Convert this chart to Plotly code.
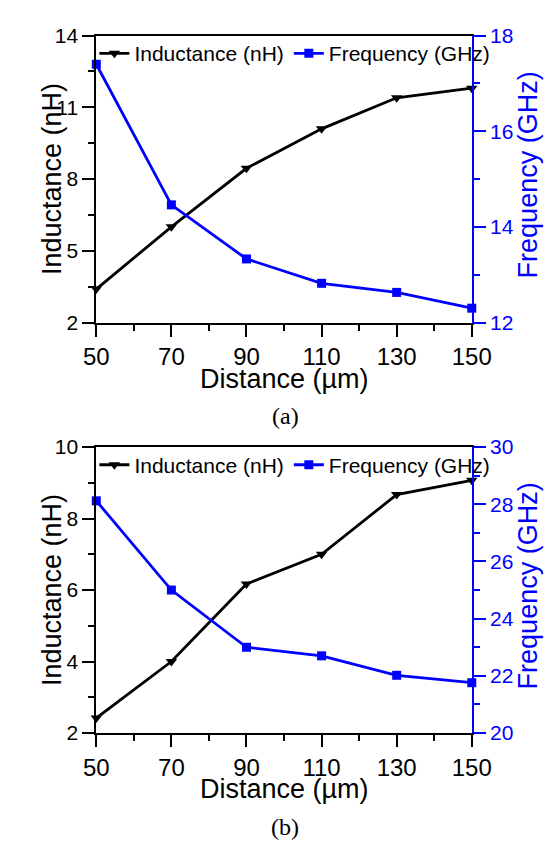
import plotly.graph_objects as go

W, H = 560, 845

distance = [50, 70, 90, 110, 130, 150]
ind_a = [3.4, 6.0, 8.45, 10.1, 11.4, 11.8]
freq_a = [17.4, 14.46, 13.33, 12.82, 12.63, 12.3]
ind_b = [2.42, 4.0, 6.17, 7.0, 8.67, 9.07]
freq_b = [28.12, 25.0, 23.0, 22.7, 22.02, 21.76]

ind_name = "Inductance (nH)"
freq_name = "Frequency (GHz)"
x_title = "Distance (µm)"
captions = ["(a)", "(b)"]

FONT = "Arial, Liberation Sans, sans-serif"
BLUE = "#0000FF"

def px_x(p):
    return p / W

def px_y(p):
    return 1 - p / H

xdom = [px_x(80), px_x(479)]
top_dom = [px_y(311), px_y(16)]
bot_dom = [px_y(733), px_y(439)]

fig = go.Figure()

def add_pair(ind, freq, xa, ya, ya2, leg):
    fig.add_trace(go.Scatter(
        x=distance, y=ind, name=ind_name, mode="lines+markers",
        line=dict(color="black", width=2.8),
        marker=dict(symbol="triangle-down", size=10, color="black"),
        xaxis=xa, yaxis=ya, legend=leg, cliponaxis=False))
    fig.add_trace(go.Scatter(
        x=distance, y=freq, name=freq_name, mode="lines+markers",
        line=dict(color=BLUE, width=2.8),
        marker=dict(symbol="square", size=9, color=BLUE),
        xaxis=xa, yaxis=ya2, legend=leg, cliponaxis=False))

add_pair(ind_a, freq_a, "x", "y", "y2", "legend")
add_pair(ind_b, freq_b, "x2", "y3", "y4", "legend2")

def xaxis_cfg(anchor):
    return dict(
        domain=xdom, anchor=anchor, range=[50, 150], tick0=50, dtick=20,
        showline=True, linecolor="black", linewidth=2, mirror=True,
        ticks="outside", ticklen=12, tickwidth=2, tickcolor="black",
        minor=dict(ticks="outside", dtick=10, tick0=50, ticklen=6, tickwidth=2, tickcolor="black"),
        showgrid=False, zeroline=False,
        tickfont=dict(family=FONT, size=24, color="black"))

def yleft_cfg(dom, anchor, rng, t0, dt, mdt):
    return dict(
        domain=dom, anchor=anchor, range=rng, tick0=t0, dtick=dt,
        showline=True, linecolor="black", linewidth=2,
        ticks="outside", ticklen=12, tickwidth=2, tickcolor="black",
        minor=dict(ticks="outside", dtick=mdt, tick0=t0, ticklen=6, tickwidth=2, tickcolor="black"),
        showgrid=False, zeroline=False,
        tickfont=dict(family=FONT, size=21, color="black"))

def yright_cfg(over, anchor, rng, t0, dt, mdt):
    return dict(
        overlaying=over, anchor=anchor, side="right", range=rng, tick0=t0, dtick=dt,
        showline=True, linecolor=BLUE, linewidth=2,
        ticks="outside", ticklen=12, tickwidth=2, tickcolor=BLUE,
        minor=dict(ticks="outside", dtick=mdt, tick0=t0, ticklen=6, tickwidth=2, tickcolor=BLUE),
        showgrid=False, zeroline=False,
        tickfont=dict(family=FONT, size=21, color=BLUE))

fig.update_layout(
    width=W, height=H, margin=dict(l=0, r=0, t=0, b=0),
    paper_bgcolor="white", plot_bgcolor="white",
    font=dict(family=FONT, color="black"),
    xaxis=xaxis_cfg("y"),
    xaxis2=xaxis_cfg("y3"),
    yaxis=yleft_cfg(top_dom, "x", [2, 14], 2, 3, 1.5),
    yaxis2=yright_cfg("y", "x", [12, 18], 12, 2, 1),
    yaxis3=yleft_cfg(bot_dom, "x2", [2, 10], 2, 2, 1),
    yaxis4=yright_cfg("y3", "x2", [20, 30], 20, 2, 1),
    legend=dict(orientation="h", x=px_x(78), y=px_y(13.5), xanchor="left", yanchor="top",
                bgcolor="rgba(0,0,0,0)", font=dict(family=FONT, size=21, color="black")),
    legend2=dict(orientation="h", x=px_x(78), y=px_y(436.5), xanchor="left", yanchor="top",
                 bgcolor="rgba(0,0,0,0)", font=dict(family=FONT, size=21, color="black")),
)

def ann(text, x, y, size, color="black", angle=0, family=FONT):
    fig.add_annotation(text=text, x=px_x(x), y=px_y(y), xref="paper", yref="paper",
                       showarrow=False, textangle=angle, xanchor="center", yanchor="middle",
                       font=dict(family=family, size=size, color=color))

for (top, bot), cap, cy in [((16, 311), captions[0], 407), ((439, 733), captions[1], 830)]:
    mid = (top + bot) / 2
    ann(ind_name, 33, mid, 27, angle=-90)
    ann(freq_name, 539, mid - 4, 27, color=BLUE, angle=-90)
    ann(x_title, 280, bot + 58, 27)
    ann(cap, 281, cy, 24, family="Liberation Serif, Times New Roman, serif")

fig.write_html("out.html")
